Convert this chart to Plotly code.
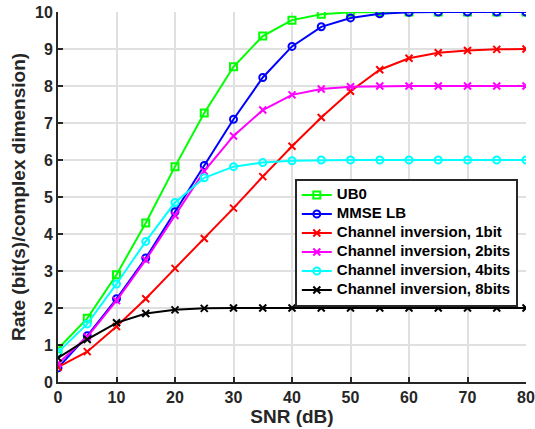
import plotly.graph_objects as go

snr = [0, 5, 10, 15, 20, 25, 30, 35, 40, 45, 50, 55, 60, 65, 70, 75, 80]
ub0 = [0.9, 1.72, 2.9, 4.3, 5.82, 7.27, 8.52, 9.35, 9.78, 9.94, 9.99, 10.0, 10.0, 10.0, 10.0, 10.0, 10.0]
mmse = [0.38, 1.25, 2.25, 3.35, 4.6, 5.85, 7.1, 8.23, 9.07, 9.6, 9.84, 9.95, 9.99, 10.0, 10.0, 10.0, 10.0]
ci1 = [0.4, 0.82, 1.5, 2.25, 3.07, 3.88, 4.7, 5.55, 6.37, 7.15, 7.86, 8.44, 8.75, 8.9, 8.96, 8.99, 9.0]
ci2 = [0.5, 1.22, 2.2, 3.3, 4.5, 5.7, 6.65, 7.35, 7.76, 7.92, 7.98, 8.0, 8.0, 8.0, 8.0, 8.0, 8.0]
ci4 = [0.8, 1.57, 2.65, 3.8, 4.85, 5.52, 5.82, 5.93, 5.98, 6.0, 6.0, 6.0, 6.0, 6.0, 6.0, 6.0, 6.0]
ci8 = [0.65, 1.15, 1.6, 1.85, 1.95, 1.99, 2.0, 2.0, 2.0, 2.0, 2.0, 2.0, 2.0, 2.0, 2.0, 2.0, 2.0]

x_ticks = [0, 10, 20, 30, 40, 50, 60, 70, 80]
y_ticks = [0, 1, 2, 3, 4, 5, 6, 7, 8, 9, 10]

series = [
    ("UB0", ub0, "#00ff00", "square-open"),
    ("MMSE LB", mmse, "#0000ff", "circle-open"),
    ("Channel inversion, 1bit", ci1, "#ff0000", "x-thin-open"),
    ("Channel inversion, 2bits", ci2, "#ff00ff", "x-thin-open"),
    ("Channel inversion, 4bits", ci4, "#00ffff", "circle-open"),
    ("Channel inversion, 8bits", ci8, "#000000", "x-thin-open"),
]

fig = go.Figure()
for name, ys, color, sym in series:
    fig.add_trace(go.Scatter(
        x=snr, y=ys,
        name='<span style="font-size:15px"><b>%s</b></span>' % name,
        mode="lines+markers",
        line=dict(color=color, width=2),
        marker=dict(symbol=sym, size=7, color=color, line=dict(color=color, width=2)),
    ))

FONT = "Liberation Sans"
axis_common = dict(
    showgrid=True, gridcolor="#e0e0e0", gridwidth=2,
    zeroline=False, showline=True, linecolor="#262626", linewidth=2,
    ticks="inside", ticklen=5, tickwidth=2, tickcolor="#262626",
    tickfont=dict(family=FONT, size=16, color="#262626"),
    automargin=False, ticklabeloverflow="allow",
)

fig.update_layout(
    width=535, height=429,
    margin=dict(l=58, r=9, t=12, b=47),
    paper_bgcolor="white", plot_bgcolor="white",
    font=dict(family=FONT, color="#262626"),
    xaxis=dict(range=[0, 80], tickmode="array", tickvals=x_ticks,
               ticktext=["<b>%d</b>" % v for v in x_ticks],
               title=dict(text="<b>SNR (dB)</b>", standoff=0,
                          font=dict(size=19, family=FONT, color="#262626")),
               **axis_common),
    yaxis=dict(range=[0, 10], tickmode="array", tickvals=y_ticks,
               ticktext=["<b>%d</b>" % v for v in y_ticks],
               title=dict(text="<b>Rate (bit(s)/complex dimension)</b>", standoff=4,
                          font=dict(size=19, family=FONT, color="#262626")),
               **axis_common),
    legend=dict(x=0.506, y=0.55, xanchor="left", yanchor="top",
                bgcolor="white", bordercolor="#262626", borderwidth=2,
                font=dict(size=10, family=FONT, color="black"),
                tracegroupgap=0, itemwidth=30),
    showlegend=True,
)

fig.write_html(
    "out.html",
    config={"displayModeBar": False},
    post_script="document.body.style.margin='0px';document.body.style.overflow='hidden';",
)
